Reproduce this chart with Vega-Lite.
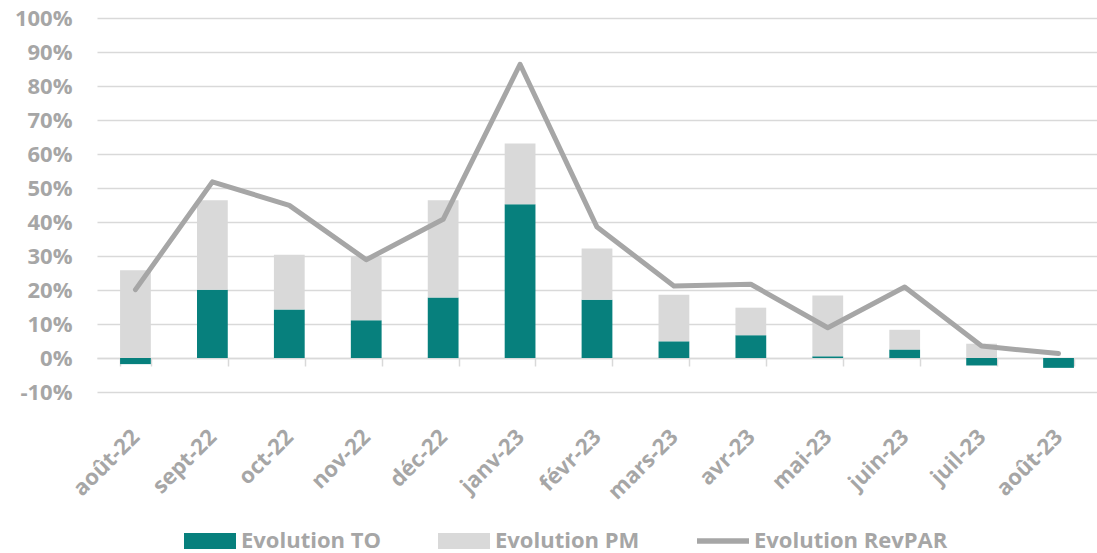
{
  "$schema": "https://vega.github.io/schema/vega-lite/v6.json",
  "width": 1000,
  "height": 374,
  "autosize": {"type": "none"},
  "padding": {"left": 97, "top": 18, "right": 0, "bottom": 161},
  "background": "white",
  "config": {
    "view": {"stroke": null},
    "font": "Open Sans"
  },
  "datasets": {
    "barres": [
      {"mois": "août-22", "serie": "Evolution TO", "valeur": -0.018},
      {"mois": "août-22", "serie": "Evolution PM", "valeur": 0.258},
      {"mois": "sept-22", "serie": "Evolution TO", "valeur": 0.201},
      {"mois": "sept-22", "serie": "Evolution PM", "valeur": 0.263},
      {"mois": "oct-22", "serie": "Evolution TO", "valeur": 0.143},
      {"mois": "oct-22", "serie": "Evolution PM", "valeur": 0.161},
      {"mois": "nov-22", "serie": "Evolution TO", "valeur": 0.111},
      {"mois": "nov-22", "serie": "Evolution PM", "valeur": 0.186},
      {"mois": "déc-22", "serie": "Evolution TO", "valeur": 0.178},
      {"mois": "déc-22", "serie": "Evolution PM", "valeur": 0.286},
      {"mois": "janv-23", "serie": "Evolution TO", "valeur": 0.452},
      {"mois": "janv-23", "serie": "Evolution PM", "valeur": 0.179},
      {"mois": "févr-23", "serie": "Evolution TO", "valeur": 0.171},
      {"mois": "févr-23", "serie": "Evolution PM", "valeur": 0.151},
      {"mois": "mars-23", "serie": "Evolution TO", "valeur": 0.049},
      {"mois": "mars-23", "serie": "Evolution PM", "valeur": 0.137},
      {"mois": "avr-23", "serie": "Evolution TO", "valeur": 0.067},
      {"mois": "avr-23", "serie": "Evolution PM", "valeur": 0.081},
      {"mois": "mai-23", "serie": "Evolution TO", "valeur": 0.005},
      {"mois": "mai-23", "serie": "Evolution PM", "valeur": 0.179},
      {"mois": "juin-23", "serie": "Evolution TO", "valeur": 0.025},
      {"mois": "juin-23", "serie": "Evolution PM", "valeur": 0.058},
      {"mois": "juil-23", "serie": "Evolution TO", "valeur": -0.022},
      {"mois": "juil-23", "serie": "Evolution PM", "valeur": 0.042},
      {"mois": "août-23", "serie": "Evolution TO", "valeur": -0.029},
      {"mois": "août-23", "serie": "Evolution PM", "valeur": 0.0}
    ],
    "revpar": [
      {"mois": "août-22", "serie": "Evolution RevPAR", "valeur": 0.201},
      {"mois": "sept-22", "serie": "Evolution RevPAR", "valeur": 0.518},
      {"mois": "oct-22", "serie": "Evolution RevPAR", "valeur": 0.449},
      {"mois": "nov-22", "serie": "Evolution RevPAR", "valeur": 0.289},
      {"mois": "déc-22", "serie": "Evolution RevPAR", "valeur": 0.408},
      {"mois": "janv-23", "serie": "Evolution RevPAR", "valeur": 0.864},
      {"mois": "févr-23", "serie": "Evolution RevPAR", "valeur": 0.385},
      {"mois": "mars-23", "serie": "Evolution RevPAR", "valeur": 0.212},
      {"mois": "avr-23", "serie": "Evolution RevPAR", "valeur": 0.217},
      {"mois": "mai-23", "serie": "Evolution RevPAR", "valeur": 0.089},
      {"mois": "juin-23", "serie": "Evolution RevPAR", "valeur": 0.209},
      {"mois": "juil-23", "serie": "Evolution RevPAR", "valeur": 0.035},
      {"mois": "août-23", "serie": "Evolution RevPAR", "valeur": 0.013}
    ]
  },
  "encoding": {
    "x": {
      "field": "mois",
      "type": "nominal",
      "sort": ["août-22", "sept-22", "oct-22", "nov-22", "déc-22", "janv-23", "févr-23", "mars-23", "avr-23", "mai-23", "juin-23", "juil-23", "août-23"],
      "scale": {"paddingInner": 0.6, "paddingOuter": 0.3},
      "axis": {
        "title": null,
        "labelAngle": -45,
        "labelAlign": "right",
        "labelBaseline": "middle",
        "labelFontSize": 22,
        "labelFontWeight": 700,
        "labelColor": "#a6a6a6",
        "labelPadding": 67,
        "offset": -34,
        "domainColor": "#d9d9d9",
        "domainWidth": 1.5,
        "tickColor": "#d9d9d9",
        "tickWidth": 1.5,
        "tickSize": 8,
        "tickBand": "extent",
        "grid": false
      }
    },
    "y": {
      "field": "valeur",
      "type": "quantitative",
      "scale": {"domain": [-0.1, 1.0], "nice": false, "zero": false},
      "axis": {
        "title": null,
        "values": [-0.1, 0, 0.1, 0.2, 0.3, 0.4, 0.5, 0.6, 0.7, 0.8, 0.9, 1.0],
        "labelExpr": "replace(format(datum.value, '.0%'), '\u2212', '-')",
        "labelFontSize": 22,
        "labelFontWeight": 700,
        "labelColor": "#a6a6a6",
        "labelPadding": 25,
        "domain": false,
        "ticks": false,
        "gridColor": "#d9d9d9",
        "gridWidth": 1.5
      }
    },
    "color": {
      "field": "serie",
      "type": "nominal",
      "scale": {
        "domain": ["Evolution TO", "Evolution PM", "Evolution RevPAR"],
        "range": ["#07807d", "#d9d9d9", "#a6a6a6"]
      },
      "legend": {
        "title": null,
        "orient": "none",
        "legendX": 87,
        "legendY": 497,
        "direction": "horizontal",
        "columns": 3,
        "columnPadding": 57,
        "labelFontSize": 22,
        "labelFontWeight": 700,
        "labelColor": "#a6a6a6",
        "labelOffset": 5,
        "labelLimit": 400,
        "symbolSize": 2704,
        "symbolStrokeWidth": 0,
        "encode": {
          "symbols": {
            "update": {
              "shape": {"signal": "datum.value === 'Evolution RevPAR' ? 'M-1,-0.11H1V0.11H-1Z' : 'M-1,-0.31H1V0.31H-1Z'"},
              "fill": {"scale": "color", "field": "value"},
              "stroke": {"value": "transparent"},
              "opacity": {"value": 1}
            }
          }
        }
      }
    }
  },
  "layer": [
    {
      "data": {"name": "barres"},
      "mark": {"type": "bar"},
      "encoding": {
        "y": {"field": "valeur", "type": "quantitative", "stack": "zero"},
        "order": {"field": "serie", "sort": "descending"}
      }
    },
    {
      "data": {"name": "revpar"},
      "mark": {"type": "line", "strokeWidth": 5, "strokeCap": "round", "strokeJoin": "round"},
      "encoding": {}
    }
  ]
}
